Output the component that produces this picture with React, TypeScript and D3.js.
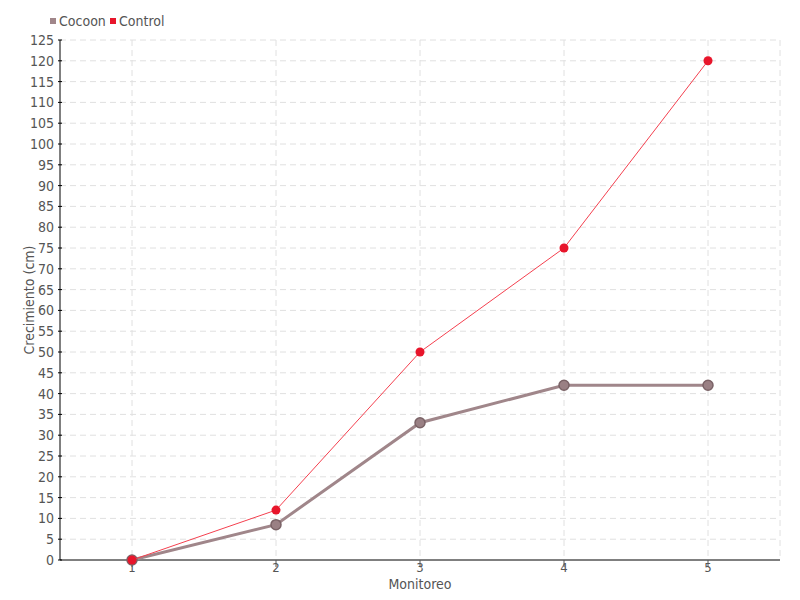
import React from "react";
import * as d3 from "d3";

const categories = ["1", "2", "3", "4", "5"];
const cocoon = [0, 8.5, 33, 42, 42];
const control = [0, 12, 50, 75, 120];
const yTicks = d3.range(0, 126, 5);

const W = 800, H = 600;
const M = { left: 60, right: 20, top: 40, bottom: 40 };
const FONT = "'Liberation Sans Narrow', 'DejaVu Sans Condensed', sans-serif";
const COCOON = "#a0868a";
const CONTROL = "#e8152b";

export default function App() {
  const x = d3.scalePoint<string>().domain(categories).range([M.left, W - M.right]).padding(0.5);
  const y = d3.scaleLinear().domain([0, 125]).range([H - M.bottom, M.top]);
  const line = d3.line<number>().x((_, i) => x(categories[i])!).y((d) => y(d));
  const x0 = M.left, x1 = W - M.right, y0 = H - M.bottom, y1 = M.top;
  return (
    <svg width={W} height={H} style={{ position: "absolute", left: 0, top: 0 }} fontFamily={FONT}>
      <rect width={W} height={H} fill="#fff" />
      {yTicks.filter((t) => t > 0).map((t) => (
        <line key={"h" + t} x1={x0} x2={x1} y1={y(t)} y2={y(t)} stroke="#e0e0e0" strokeDasharray="6,4" />
      ))}
      {categories.map((c) => (
        <line key={"v" + c} x1={x(c)} x2={x(c)} y1={y1} y2={y0} stroke="#e0e0e0" strokeDasharray="6,4" />
      ))}
      <line x1={x1} x2={x1} y1={y1} y2={y0} stroke="#e0e0e0" strokeDasharray="6,4" />
      <line x1={x0} x2={x0} y1={y1} y2={y0} stroke="#000" />
      <line x1={x0} x2={x1} y1={y0} y2={y0} stroke="#000" />
      {yTicks.map((t) => (
        <g key={"yt" + t}>
          <line x1={x0 - 2} x2={x0 + 2} y1={y(t)} y2={y(t)} stroke="#000" />
          <text x={x0 - 6} y={y(t)} dy="0.35em" textAnchor="end" fontSize={14} fill="#555">{t}</text>
        </g>
      ))}
      {categories.map((c) => (
        <g key={"xt" + c}>
          <line x1={x(c)} x2={x(c)} y1={y0} y2={y0 + 7} stroke="#555" />
          <text x={x(c)} y={y0 + 12} textAnchor="middle" fontSize={13} fill="#555">{c}</text>
        </g>
      ))}
      <text x={(x0 + x1) / 2} y={589} textAnchor="middle" fontSize={14} fill="#555">Monitoreo</text>
      <text transform={`translate(34,${(y0 + y1) / 2}) rotate(-90)`} textAnchor="middle" fontSize={14} fill="#555">Crecimiento (cm)</text>

      <path d={line(cocoon)!} fill="none" stroke={COCOON} strokeWidth={3} />
      {cocoon.map((v, i) => (
        <circle key={"cc" + i} cx={x(categories[i])} cy={y(v)} r={5} fill="#9a8084" stroke="#7a6266" strokeWidth={1.5} />
      ))}
      <path d={line(control)!} fill="none" stroke="#f4404f" strokeWidth={1} />
      {control.map((v, i) => (
        <circle key={"ct" + i} cx={x(categories[i])} cy={y(v)} r={4.5} fill={CONTROL} />
      ))}

      <rect x={50} y={18} width={6} height={6} fill={COCOON} />
      <text x={59} y={21} dy="0.35em" fontSize={14} fill="#555">Cocoon</text>
      <rect x={110} y={18} width={6} height={6} fill={CONTROL} />
      <text x={119} y={21} dy="0.35em" fontSize={14} fill="#555">Control</text>
    </svg>
  );
}
